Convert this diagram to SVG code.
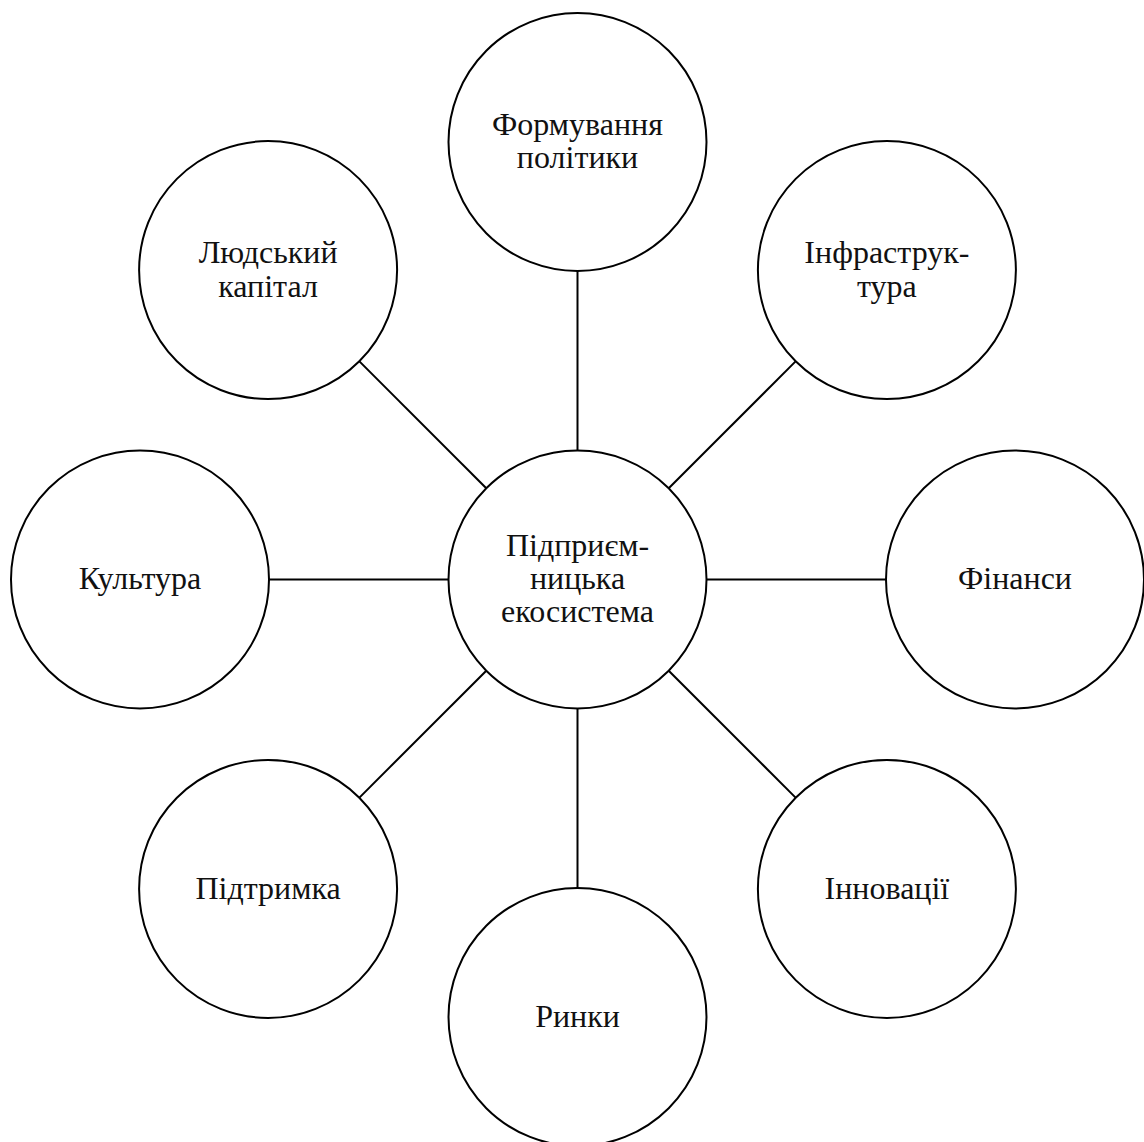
<svg xmlns="http://www.w3.org/2000/svg" width="1144" height="1142" viewBox="0 0 1144 1142">
<style>
.node circle{fill:#fff;stroke:#000;stroke-width:2}
.node text{font-family:"Liberation Serif","Times New Roman",serif;font-size:32px;fill:#111;text-anchor:middle}
#connectors line{stroke:#000;stroke-width:2}
</style>
<rect width="1144" height="1142" fill="#fff"/>
<g id="connectors">
<line x1="577.5" y1="450.5" x2="577.5" y2="271"/>
<line x1="668.7" y1="488.3" x2="795.6" y2="361.4"/>
<line x1="706.5" y1="579.5" x2="886" y2="579.5"/>
<line x1="668.7" y1="670.7" x2="795.6" y2="797.6"/>
<line x1="577.5" y1="708.5" x2="577.5" y2="888"/>
<line x1="486.3" y1="670.7" x2="359.4" y2="797.6"/>
<line x1="448.5" y1="579.5" x2="269" y2="579.5"/>
<line x1="486.3" y1="488.3" x2="359.4" y2="361.4"/>
</g>
<g id="node-center" class="node">
<circle cx="577.5" cy="579.5" r="129"/>
<text x="577.5" y="556">Підприєм-</text>
<text x="577.5" y="589">ницька</text>
<text x="577.5" y="622">екосистема</text>
</g>
<g id="node-policy" class="node">
<circle cx="577.5" cy="142" r="129"/>
<text x="577.5" y="135">Формування</text>
<text x="577.5" y="168">політики</text>
</g>
<g id="node-infrastructure" class="node">
<circle cx="886.9" cy="270.1" r="129"/>
<text x="886.9" y="263">Інфраструк-</text>
<text x="886.9" y="296.5">тура</text>
</g>
<g id="node-finance" class="node">
<circle cx="1015" cy="579.5" r="129"/>
<text x="1015" y="589">Фінанси</text>
</g>
<g id="node-innovation" class="node">
<circle cx="886.9" cy="888.9" r="129"/>
<text x="886.9" y="899">Інновації</text>
</g>
<g id="node-markets" class="node">
<circle cx="577.5" cy="1017" r="129"/>
<text x="577.5" y="1027">Ринки</text>
</g>
<g id="node-support" class="node">
<circle cx="268.1" cy="888.9" r="129"/>
<text x="268.1" y="899">Підтримка</text>
</g>
<g id="node-culture" class="node">
<circle cx="140" cy="579.5" r="129"/>
<text x="140" y="589">Культура</text>
</g>
<g id="node-human" class="node">
<circle cx="268.1" cy="270.1" r="129"/>
<text x="268.1" y="263">Людський</text>
<text x="268.1" y="296.5">капітал</text>
</g>
</svg>
